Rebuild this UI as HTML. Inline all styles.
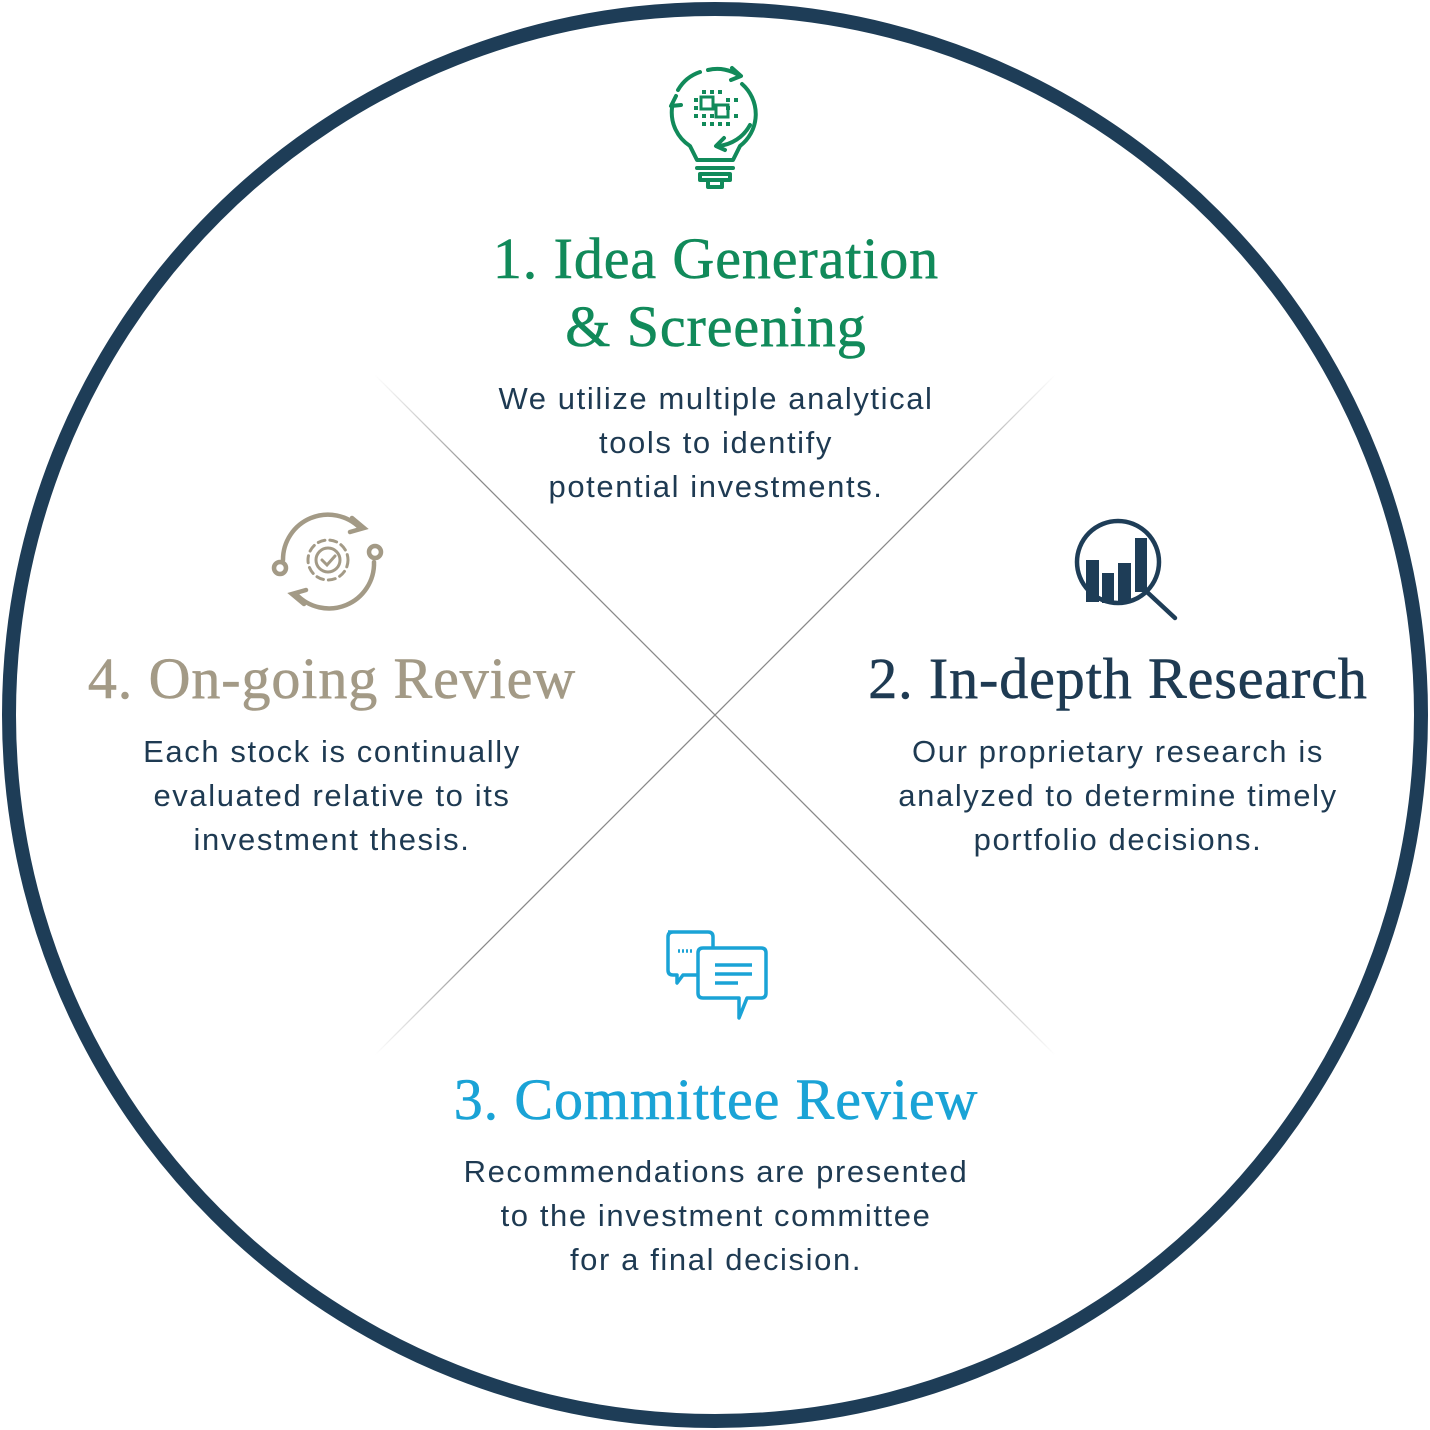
<!DOCTYPE html>
<html><head><meta charset="utf-8"><style>
html,body{margin:0;padding:0;background:#fff;}
#c{position:relative;width:1430px;height:1430px;overflow:hidden;}
.h{position:absolute;font-family:"Liberation Serif","DejaVu Serif",serif;font-size:58px;letter-spacing:0.9px;line-height:68px;text-align:center;white-space:nowrap;-webkit-text-stroke:0.6px currentColor;}
.b{position:absolute;font-family:"Liberation Sans",sans-serif;font-size:31px;letter-spacing:1.6px;line-height:44px;color:#1e3a52;text-align:center;white-space:nowrap;}
</style></head><body><div id="c">
<svg width="1430" height="1430" style="position:absolute;left:0;top:0">
<defs>
<linearGradient id="g1" x1="375" y1="375" x2="1055" y2="1055" gradientUnits="userSpaceOnUse"><stop offset="0" stop-color="#999" stop-opacity="0"/><stop offset="0.15" stop-color="#888"/><stop offset="0.85" stop-color="#888"/><stop offset="1" stop-color="#999" stop-opacity="0"/></linearGradient>
<linearGradient id="g2" x1="1055" y1="375" x2="375" y2="1055" gradientUnits="userSpaceOnUse"><stop offset="0" stop-color="#999" stop-opacity="0"/><stop offset="0.15" stop-color="#888"/><stop offset="0.85" stop-color="#888"/><stop offset="1" stop-color="#999" stop-opacity="0"/></linearGradient>
</defs>
<circle cx="715" cy="715" r="706" fill="#fff" stroke="#1e3d57" stroke-width="14"/>
<line x1="375" y1="375" x2="1055" y2="1055" stroke="url(#g1)" stroke-width="1.3"/>
<line x1="1055" y1="375" x2="375" y2="1055" stroke="url(#g2)" stroke-width="1.3"/>
<!-- bulb -->
<g fill="none" stroke="#118a5a" stroke-width="4" stroke-linecap="round" stroke-linejoin="round">
<path d="M700 72 A40 40 0 0 0 678 90"/>
<path d="M672 108 A40 40 0 0 0 690 146 L697 160 L733 160 L740 146 A40 40 0 0 0 742 84"/>
<path d="M708 70 A40 40 0 0 1 740 76"/>
<path d="M732 68 l9 8 -10 4"/>
<path d="M676 96 l-5 10 10 -1"/>
<path d="M750 125 A40 40 0 0 1 718 146"/>
<path d="M724 138 l-8 8 9 4"/>
<line x1="697" y1="168" x2="733" y2="168"/>
<path d="M700 174 h30 v6 h-30 z"/>
<path d="M708 180 v7 h14 v-7"/>
</g>
<g fill="#118a5a">
<rect x="702" y="90" width="4" height="4"/><rect x="710" y="90" width="4" height="4"/><rect x="718" y="90" width="4" height="4"/>
<rect x="694" y="98" width="4" height="4"/><rect x="726" y="98" width="4" height="4"/><rect x="734" y="98" width="4" height="4"/>
<rect x="694" y="106" width="4" height="4"/><rect x="726" y="106" width="4" height="4"/>
<rect x="694" y="114" width="4" height="4"/><rect x="702" y="114" width="4" height="4"/><rect x="710" y="114" width="4" height="4"/><rect x="734" y="114" width="4" height="4"/>
<rect x="702" y="122" width="4" height="4"/><rect x="710" y="122" width="4" height="4"/><rect x="718" y="122" width="4" height="4"/><rect x="726" y="122" width="4" height="4"/>
</g>
<g fill="none" stroke="#118a5a" stroke-width="3"><rect x="701" y="97" width="12" height="12"/><rect x="716" y="105" width="12" height="12"/></g>
<!-- research -->
<g stroke="#1e3d57" fill="none" stroke-width="4.5" stroke-linecap="round">
<circle cx="1118" cy="562" r="41"/><line x1="1147" y1="592" x2="1175" y2="618"/>
</g>
<g fill="#1e3d57">
<rect x="1086" y="560" width="13" height="42"/><rect x="1102" y="573" width="12" height="30"/><rect x="1118" y="563" width="13" height="40"/><rect x="1135" y="538" width="12" height="54"/>
</g>
<!-- gear -->
<g fill="none" stroke="#a39a86" stroke-width="4.5" stroke-linecap="round">
<path d="M283 560 A45 45 0 0 1 360 528"/><path d="M352 518 l12 10 -14 4"/>
<path d="M374 562 A45 45 0 0 1 296 594"/><path d="M304 604 l-12 -10 14 -4"/>
<circle cx="280" cy="568" r="6"/><circle cx="375" cy="552" r="6"/>
<circle cx="328" cy="560" r="20" stroke-width="3" stroke-dasharray="7 5"/>
<circle cx="328" cy="560" r="12" stroke-width="3"/>
<path d="M322 560 l5 5 8 -9" stroke-width="3"/>
</g>
<!-- chat -->
<g fill="none" stroke="#1aa3d6" stroke-width="3.5" stroke-linejoin="round">
<path d="M668 932 h40 q5 0 5 5 v10 M698 975 h-15 l-6 8 v-8 h-4 q-5 0 -5 -5 v-33 q0 -5 5 -5"/>
<path d="M703 948 h58 q5 0 5 5 v40 q0 5 -5 5 h-14 l-8 20 v-20 h-36 q-5 0 -5 -5 v-40 q0 -5 5 -5 z"/>
<line x1="715" y1="965" x2="752" y2="965"/><line x1="715" y1="974" x2="752" y2="974"/><line x1="715" y1="983" x2="738" y2="983"/>
<line x1="678" y1="951" x2="694" y2="951" stroke-dasharray="2 2"/>
</g>
</svg>
<div class="h" style="left:316px;width:800px;top:225px;color:#118a5a">1. Idea Generation<br>&amp; Screening</div>
<div class="b" style="left:316px;width:800px;top:377px">We utilize multiple analytical<br>tools to identify<br>potential investments.</div>
<div class="h" style="left:818px;width:600px;top:645px;color:#1e3a52">2. In-depth Research</div>
<div class="b" style="left:818px;width:600px;top:730px">Our proprietary research is<br>analyzed to determine timely<br>portfolio decisions.</div>
<div class="h" style="left:32px;width:600px;top:645px;color:#a39a86">4. On-going Review</div>
<div class="b" style="left:32px;width:600px;top:730px">Each stock is continually<br>evaluated relative to its<br>investment thesis.</div>
<div class="h" style="left:316px;width:800px;top:1066px;color:#1aa3d6">3. Committee Review</div>
<div class="b" style="left:316px;width:800px;top:1150px">Recommendations are presented<br>to the investment committee<br>for a final decision.</div>
</div></body></html>
